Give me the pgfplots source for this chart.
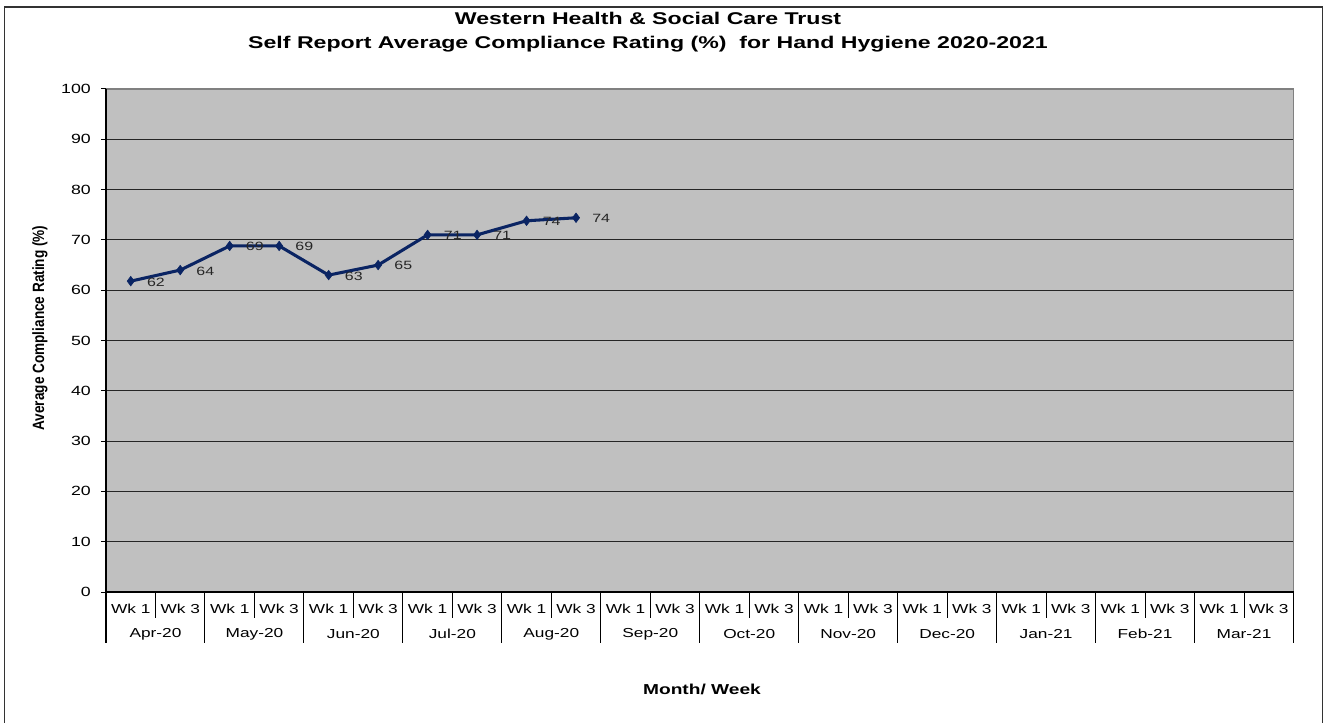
\documentclass[border=0pt]{standalone}
\usepackage{fontspec}
\usepackage{graphicx}
\setmainfont{Liberation Sans}[FakeStretch=1.33]
\newfontfamily\ylabfont{Liberation Sans}
\newfontfamily\titlefont{Liberation Sans}[FakeStretch=1.36]
\usepackage{pgfplots}
\pgfplotsset{compat=1.18}
\definecolor{plotbg}{HTML}{C0C0C0}
\definecolor{navy}{HTML}{0A2463}
\definecolor{edgegray}{HTML}{808080}

\pgfplotstableread{
x y label
0 61.8 62
1 64.0 64
2 68.8 69
3 68.8 69
4 63.0 63
5 65.0 65
6 71.0 71
7 71.0 71
8 73.8 74
9 74.4 74
}\datatable

\begin{document}
\begin{tikzpicture}
\begin{scope}[x=0.75pt,y=0.75pt]
\path[use as bounding box] (0,0) rectangle (1324,722);
\draw[black!80, line width=1pt] (4,715) -- (1322.5,715) -- (1322.5,-10);
\draw[black!80, line width=1pt] (4.5,715) -- (4.5,-10);
\end{scope}

\begin{axis}[
  at={(79.5pt,97.5pt)}, anchor=south west,
  scale only axis, width=890.6pt, height=377.25pt,
  xmin=-0.5, xmax=23.5, ymin=0, ymax=100,
  xtick=\empty,
  ytick={0,10,...,100},
  ytick pos=left, tick align=outside,
  major tick length=3.75pt,
  ytick style={black, line width=0.75pt},
  /pgf/number format/assume math mode=true,
  yticklabel style={font=\fontsize{10}{11}\selectfont, inner sep=0pt, xshift=-7.5pt},
  ymajorgrids, grid style={black!85, line width=0.75pt},
  axis background/.style={fill=plotbg},
  axis line style={draw=none},
  clip=false,
]
\addplot[navy, line width=2.3pt, mark=diamond*, mark size=3.6pt,
  mark options={solid, line width=0.4pt},
  nodes near coords, point meta=explicit symbolic,
  every node near coord/.append style={anchor=west, inner sep=0pt, xshift=12pt, yshift=-0.6pt,
    font=\fontsize{9}{10}\selectfont, text=black!85}]
  table[x=x, y=y, meta=label] {\datatable};
\end{axis}

\begin{scope}[x=0.75pt,y=0.75pt]
% plot frame
\draw[edgegray, line width=1.3pt] (106,633) -- (1293.5,633) -- (1293.5,130);
\draw[black, line width=0.9pt] (106,633) -- (106,79);
\draw[black, line width=0.9pt] (106,130) -- (1293.5,130);
% separators
\foreach \k in {1,3,...,23} {
  \draw[black, line width=0.75pt] ({106+49.479*\k},130) -- ({106+49.479*\k},104);
}
\foreach \k in {2,4,...,24} {
  \draw[black, line width=0.75pt] ({106+49.479*\k},130) -- ({106+49.479*\k},79);
}
% week labels
\foreach \k in {0,...,23} {
  \node[font=\fontsize{9.75}{11}\selectfont, inner sep=0pt] at ({106+49.479*(\k+0.5)},113) {Wk \ifodd\k\relax 3\else 1\fi};
}
% month labels
\foreach \m/\name in {0/Apr-20,1/May-20,2/Jun-20,3/Jul-20,4/Aug-20,5/Sep-20,6/Oct-20,7/Nov-20,8/Dec-20,9/Jan-21,10/Feb-21,11/Mar-21} {
  \node[font=\fontsize{9.75}{11}\selectfont, inner sep=0pt] at ({106+49.479*(2*\m+1)},88) {\name};
}
% titles
\node[font=\titlefont\bfseries\fontsize{12.75}{18}\selectfont, align=center] at (648,690) {Western Health \& Social Care Trust\\Self Report Average Compliance Rating (\%)\ \ for Hand Hygiene 2020-2021};
\node[font=\ylabfont\bfseries\fontsize{10.2}{12}\selectfont, inner sep=0pt] at (40,394) {\rotatebox{90}{\scalebox{1}[1.2]{Average Compliance Rating (\%)}}};
\node[font=\bfseries\fontsize{10.8}{12}\selectfont] at (702,33) {Month/ Week};
\end{scope}
\end{tikzpicture}
\end{document}
